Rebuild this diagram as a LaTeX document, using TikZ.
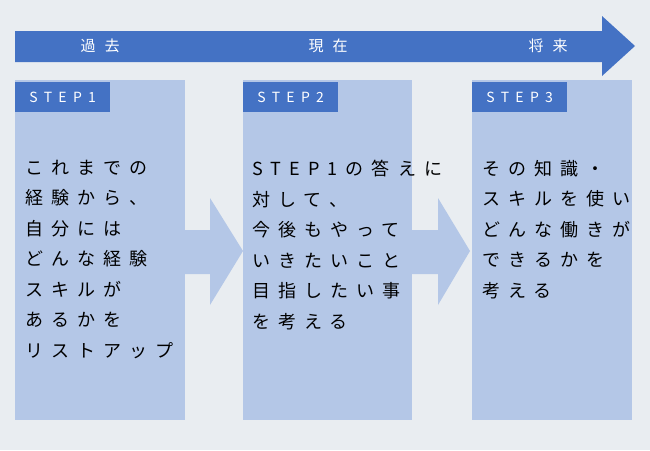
\documentclass[tikz,border=0pt]{standalone}
\usepackage{fontspec}
\newfontfamily\jp[LetterSpace=45]{Noto Sans CJK JP}
\newfontfamily\jptop[LetterSpace=60]{Noto Sans CJK JP}
\definecolor{bg}{HTML}{E9EDF1}
\definecolor{darkblue}{HTML}{4472C4}
\definecolor{paleblue}{HTML}{B4C7E7}
\tikzset{
  stepbox/.style={fill=paleblue, draw=none},
  steptab/.style={fill=darkblue, text=white, anchor=north west, minimum width=95pt, minimum height=30pt, inner sep=0pt, font=\jp\fontsize{14}{14}\selectfont},
  bodytext/.style={anchor=north west, align=left, inner sep=0pt, font=\jp\fontsize{18}{30.5}\selectfont},
  toplabel/.style={text=white, font=\jptop\fontsize{15}{15}\selectfont}
}
\begin{document}
\begin{tikzpicture}[x=1pt,y=-1pt]
\fill[bg] (0,0) rectangle (650,450);
\useasboundingbox (0,0) rectangle (650,450);
% time line
\fill[darkblue] (15,31) -- (602,31) -- (602,16) -- (635,46) -- (602,76) -- (602,62) -- (15,62) -- cycle;
\node[toplabel] (past) at (100,46) {過去};
\node[toplabel] (now) at (328,46) {現在};
\node[toplabel] (future) at (548,46) {将来};
% boxes
\fill[stepbox] (15,80) rectangle (185,420);
\fill[stepbox] (243,80) rectangle (412,420);
\fill[stepbox] (472,80) rectangle (632,420);
% arrows between
\fill[stepbox] (185,230) -- (210,230) -- (210,198) -- (243,251) -- (210,305) -- (210,274) -- (185,274) -- cycle;
\fill[stepbox] (412,230) -- (438,230) -- (438,198) -- (470,251) -- (438,305) -- (438,274) -- (412,274) -- cycle;
% tabs
\node[steptab] (tab1) at (15,82) {STEP1};
\node[steptab] (tab2) at (243,82) {STEP2};
\node[steptab] (tab3) at (472,82) {STEP3};
% texts
\node[bodytext] (text1) at (25,160) {これまでの\\経験から、\\自分には\\どんな経験\\スキルが\\あるかを\\リストアップ};
\node[bodytext] (text2) at (252,160) {STEP1の答えに\\対して、\\今後もやって\\いきたいこと\\目指したい事\\を考える};
\node[bodytext] (text3) at (482,160) {その知識・\\スキルを使い\\どんな働きが\\できるかを\\考える};
\end{tikzpicture}
\end{document}
